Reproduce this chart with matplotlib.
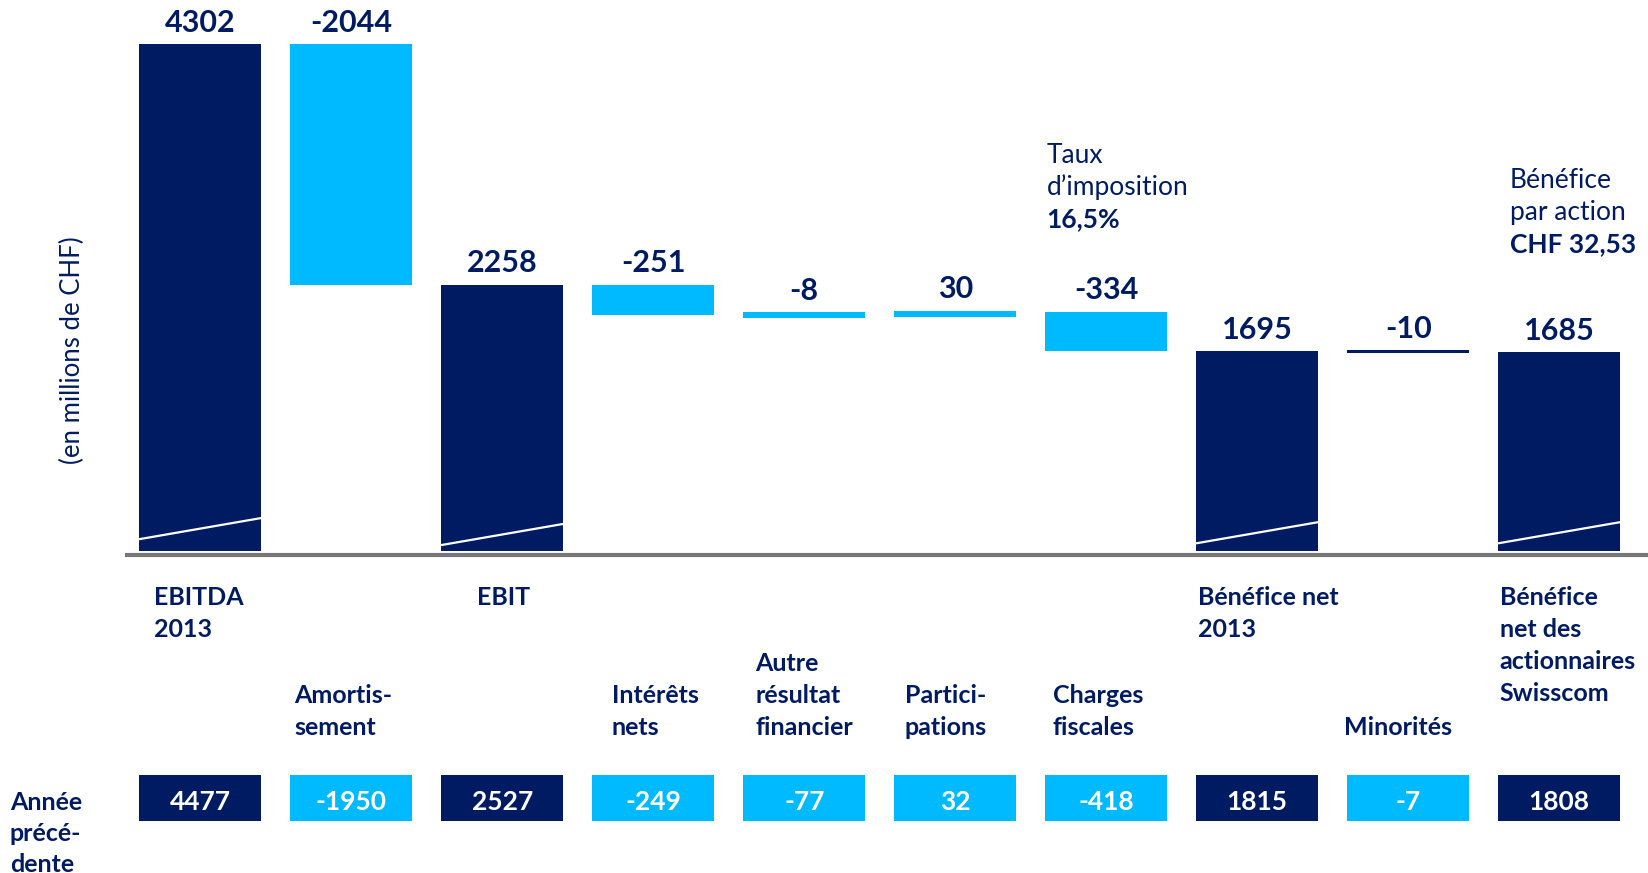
import matplotlib
matplotlib.use("Agg")
import matplotlib.pyplot as plt
from matplotlib.patches import Rectangle
from matplotlib.transforms import blended_transform_factory

plt.rcParams['font.family'] = ['Lato', 'DejaVu Sans']

NAVY = '#001b61'
LIGHT = '#00baff'

# donnees (en millions de CHF)
labels = [["EBITDA", "2013"], ["Amortis-", "sement"], ["EBIT"], ["Intérêts", "nets"],
          ["Autre", "résultat", "financier"], ["Partici-", "pations"],
          ["Charges", "fiscales"], ["Bénéfice net", "2013"], ["Minorités"],
          ["Bénéfice", "net des", "actionnaires", "Swisscom"]]
kind = ['total', 'step', 'total', 'step', 'step', 'step', 'step', 'total', 'step', 'total']
values = [4302, -2044, 2258, -251, -8, 30, -334, 1695, -10, 1685]
prev_year = [4477, -1950, 2527, -249, -77, 32, -418, 1815, -7, 1808]
tax_note = ["Taux", "d’imposition", "16,5%"]
eps_note = ["Bénéfice", "par action", "CHF 32,53"]

W, H = 1649, 873
fig = plt.figure(figsize=(W / 100, H / 100), dpi=100)
ax = fig.add_axes([0, 1 - 551 / H, 1, 551 / H])
ax.set_xlim(-1.326, 9.595)
ax.set_ylim(0, 4677)
ax.axis('off')
K = 551 / 4677          # pixels par unite
bw = 0.81
step_y = 32 / K         # interligne en unites

bar_colors = [NAVY, LIGHT, NAVY, LIGHT, LIGHT, LIGHT, LIGHT, NAVY, NAVY, NAVY]
lab_dx = [0.10, 0.03, 0.24, 0.13, 0.08, 0.07, 0.05, 0.01, -0.02, 0.01]
diag_off = {0: 100, 2: 50, 7: 65, 9: 65}

run = 0
for i, v in enumerate(values):
    if kind[i] == 'total':
        bottom, height = 0, v
        run = v
    else:
        a, b = run, run + v
        run = b
        lo, hi = min(a, b), max(a, b)
        minh = 25 if bar_colors[i] == NAVY else 50
        if hi - lo < minh:
            mid = (lo + hi) / 2
            lo, hi = mid - minh / 2, mid + minh / 2
        bottom, height = lo, hi - lo
    ax.bar(i, height, bottom=bottom, width=bw, color=bar_colors[i], linewidth=0)
    if i in diag_off:
        o = diag_off[i]
        ax.plot([i - bw / 2, i + bw / 2], [o, o + 180], color='white', lw=1.6,
                solid_capstyle='butt')
    ax.annotate(str(v), (i, bottom + height), xytext=(0, 9), textcoords='offset points',
                ha='center', va='baseline', fontsize=22, fontweight='bold', color=NAVY)

# ligne de base
ax.plot([-0.5, 9.6], [-34, -34], color='#777777', lw=3, clip_on=False,
        solid_capstyle='butt')

# axe y
ax.text(-0.844, 1706, "(en millions de CHF)", rotation=90, ha='center', va='center',
        fontsize=18.5, color=NAVY)

# notes en haut
def note(x, y_last, lines):
    n = len(lines)
    for k, s in enumerate(lines):
        ax.text(x, y_last + (n - 1 - k) * step_y, s, ha='left', va='baseline',
                fontsize=19, color=NAVY,
                fontweight='bold' if k == n - 1 else 'normal')

note(6 - bw / 2 + 0.01, 2750, tax_note)
note(9 - bw / 2 + 0.08, 2538, eps_note)

# libelles sous l'axe
tr = blended_transform_factory(ax.transData, fig.transFigure)
fy = lambda px: 1 - px / H

for i, lines in enumerate(labels):
    x = i - bw / 2 + lab_dx[i]
    n = len(lines)
    for k, s in enumerate(lines):
        if kind[i] == 'total':
            yb = 605 + 32 * k
        else:
            yb = 735 - 32 * (n - 1 - k)
        ax.text(x, fy(yb), s, transform=tr, ha='left', va='baseline', fontsize=18,
                fontweight='bold', color=NAVY, clip_on=False)

# annee precedente
for k, s in enumerate(["Année", "précé-", "dente"]):
    ax.text(-1.262, fy(810 + 31 * k), s, transform=tr, ha='left', va='baseline',
            fontsize=18, fontweight='bold', color=NAVY, clip_on=False)

for i, v in enumerate(prev_year):
    c = NAVY if kind[i] == 'total' else LIGHT
    r = Rectangle((i - bw / 2, fy(821)), bw, (821 - 775) / H, transform=tr,
                  facecolor=c, edgecolor='none', clip_on=False)
    ax.add_patch(r)
    ax.text(i, fy(810), str(v), transform=tr, ha='center', va='baseline', fontsize=19,
            fontweight='bold', color='white', clip_on=False)

fig.savefig("out.png", dpi=100)
